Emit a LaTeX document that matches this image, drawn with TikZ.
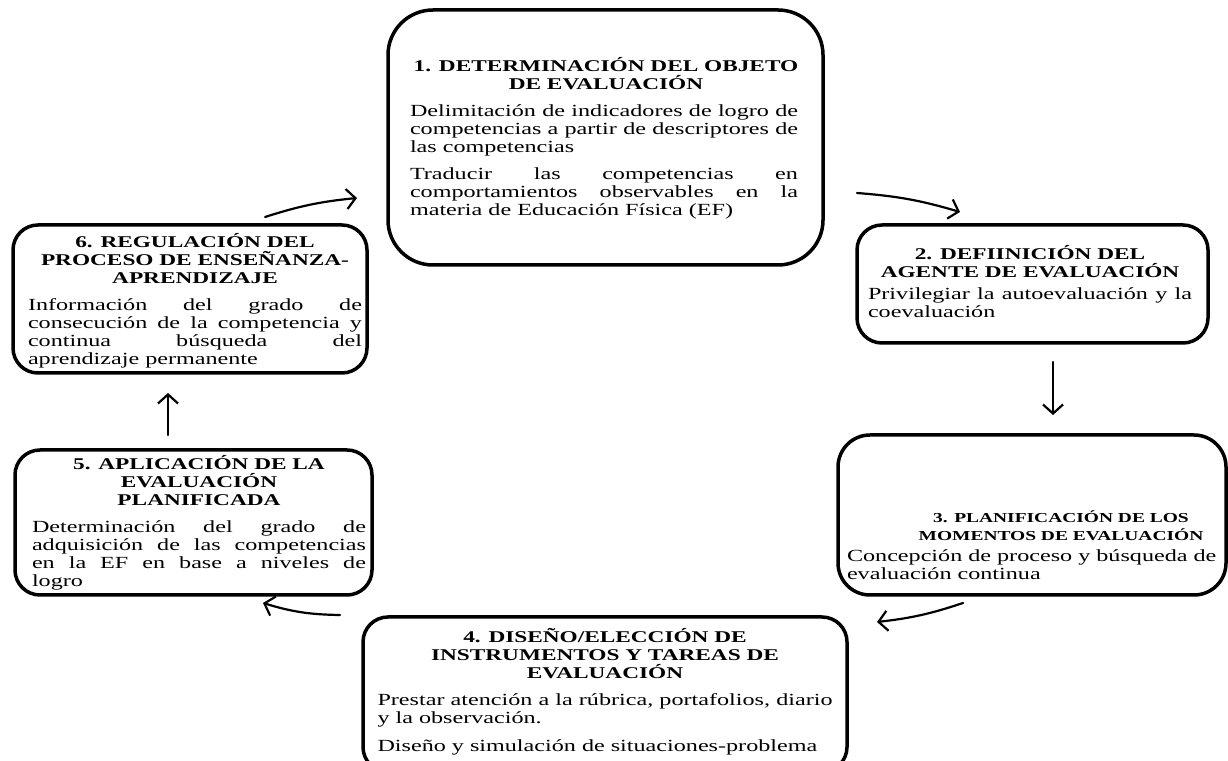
\documentclass[tikz,border=0pt]{standalone}
\usepackage{fontspec}
\setmainfont{Liberation Serif}[FakeStretch=1.42]
\usetikzlibrary{arrows.meta}
\newcommand\ttlfont{\fontsize{16.4}{18}\selectfont\bfseries}
\newcommand\bdyfont{\fontsize{17}{18}\selectfont}
\newcommand\boxsetup{\bdyfont\setlength\parskip{9pt}\hyphenpenalty=10000\exhyphenpenalty=10000\tolerance=9999\emergencystretch=20pt\hbadness=10000}
\tikzset{
  stage/.style={draw, line width=3.5pt, rounded corners=25pt, inner sep=0pt},
  txt/.style={inner sep=0pt, anchor=base},
  flow/.style={line width=2.2pt, line cap=round, -{Straight Barb[length=9pt,width=20pt]}},
}
\begin{document}
\begin{tikzpicture}[x=1pt,y=1pt]
\useasboundingbox (0,0) rectangle (1228,760);
\clip (0,0) rectangle (1228,760);
% boxes
\node[stage, minimum width=435pt, minimum height=255pt, rounded corners=45pt] (b1) at (605.5,622.5) {};
\node[stage, minimum width=351pt, minimum height=118pt] (b2) at (1032.5,476) {};
\node[stage, minimum width=388pt, minimum height=160pt, rounded corners=32pt] (b3) at (1032,245) {};
\node[stage, minimum width=484pt, minimum height=155pt] (b4) at (605,65.5) {};
\node[stage, minimum width=357pt, minimum height=145pt] (b5) at (193.5,237.5) {};
\node[stage, minimum width=354pt, minimum height=148pt] (b6) at (190,461) {};
% texts
\node[txt] (t1) at (606,688) {\begin{minipage}[t]{392pt}\boxsetup
{\centering\ttlfont\makebox[0pt][c]{1. DETERMINACIÓN DEL OBJETO}\\DE EVALUACIÓN\par}
\hsize=388pt\linewidth=388pt
Delimitación de indicadores de logro de\linebreak competencias a partir de descriptores de\linebreak las competencias\par
Traducir las competencias en\linebreak comportamientos observables en la\linebreak materia de Educación Física (EF)\end{minipage}};
\node[txt] (t2) at (1030,500) {\begin{minipage}[t]{324pt}\boxsetup\setlength\parskip{4pt}
{\centering\ttlfont 2. DEFIINICIÓN DEL\\AGENTE DE EVALUACIÓN\par}
Privilegiar la autoevaluación y la\linebreak coevaluación\end{minipage}};
\node[txt] (t3) at (1037,237) {\begin{minipage}[t]{380pt}\boxsetup\setlength\parskip{3pt}
{\centering\leftskip=48pt plus 1fil\fontsize{13.7}{18}\selectfont\bfseries 3. PLANIFICACIÓN DE LOS\\MOMENTOS DE EVALUACIÓN\par}
\raggedright Concepción de proceso y búsqueda de evaluación continua\end{minipage}};
\node[txt] (t4) at (605,117) {\begin{minipage}[t]{455pt}\boxsetup
{\centering\ttlfont 4. DISEÑO/ELECCIÓN DE\\INSTRUMENTOS Y TAREAS DE\\EVALUACIÓN\par}
Prestar atención a la rúbrica, portafolios, diario\linebreak y la observación.\par
Diseño y simulación de situaciones-problema\end{minipage}};
\node[txt] (t5) at (199,290) {\begin{minipage}[t]{334pt}\boxsetup
{\centering\ttlfont 5. APLICACIÓN DE LA\\EVALUACIÓN\\PLANIFICADA\par}
Determinación del grado de\linebreak adquisición de las competencias\linebreak en la EF en base a niveles de\linebreak logro\end{minipage}};
\node[txt] (t6) at (195,512) {\begin{minipage}[t]{334pt}\boxsetup
{\centering\ttlfont 6. REGULACIÓN DEL\\PROCESO DE ENSEÑANZA-\\APRENDIZAJE\par}
Información del grado de\linebreak consecución de la competencia y\linebreak continua búsqueda del\linebreak aprendizaje permanente\end{minipage}};
% connectors
\coordinate (a61s) at (265,543); \coordinate (a61e) at (357,562);
\coordinate (a12s) at (857,567); \coordinate (a12e) at (960,548);
\coordinate (a23s) at (1053,398); \coordinate (a23e) at (1053,345);
\coordinate (a34s) at (963,157); \coordinate (a34e) at (877,138);
\coordinate (a45s) at (340,145); \coordinate (a45e) at (263,157);
\coordinate (a56s) at (168,325); \coordinate (a56e) at (168,367);
\draw[flow] (a61s) to[bend left=6] (a61e);
\draw[flow] (a12s) to[bend left=6] (a12e);
\draw[flow] (a23s) -- (a23e);
\draw[flow] (a34s) to[bend left=6] (a34e);
\draw[flow] (a45s) to[bend left=8] (a45e);
\draw[flow] (a56s) -- (a56e);
\end{tikzpicture}
\end{document}
